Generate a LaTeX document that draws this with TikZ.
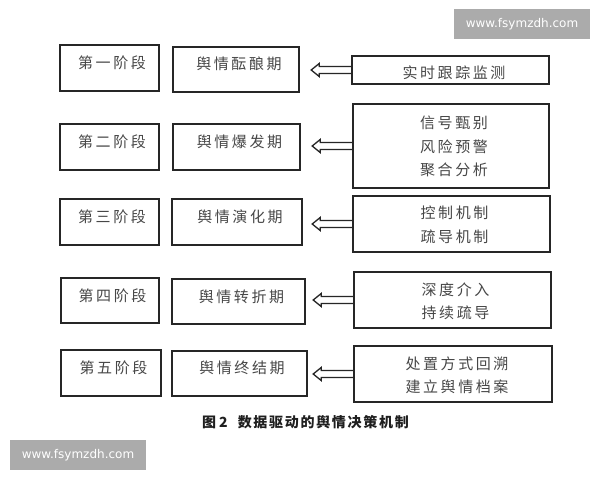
\documentclass[tikz,border=0pt]{standalone}
\usepackage{fontspec}
\newfontfamily\cjk{Noto Sans CJK SC}
\newfontfamily\wmfont{DejaVu Sans}
\usetikzlibrary{calc}
\newdimen\trk
\trk=2.6pt
\def\spaced#1{\spacedA#1\relax}
\def\spacedA#1#2{#1\ifx#2\relax\else\kern\trk\expandafter\spacedA\expandafter#2\fi}
\newcommand\mkbox[5]{\node[bx, minimum width={#4-#2}, minimum height={#5-#3}] (#1) at ({(#2+#4)/2},{(#3+#5)/2}) {};}
\newcommand\mkarrow[2]{%
  \coordinate (#2) at ($(#1.west)+(-40,0)$);
  \draw[arr] ($(#1.west)+(0,-3.5)$) -- ($(#2)+(8,-3.5)$) -- ($(#2)+(8,-6.5)$) -- (#2)
     -- ($(#2)+(8,6.5)$) -- ($(#2)+(8,3.5)$) -- ($(#1.west)+(0,3.5)$);}
\begin{document}
\begin{tikzpicture}[x=1pt,y=-1pt,
  bx/.style={draw=black!85, line width=1.6pt, inner sep=0pt},
  txt/.style={inner sep=0pt, text=black!72, font=\cjk\fontsize{15pt}{23.5pt}\selectfont, align=center},
  arr/.style={draw=black!85, line width=1.3pt, line join=miter},
  wm/.style={fill=black!33, draw=none, inner sep=0pt, minimum width=136pt, minimum height=30pt,
    text=white, font=\wmfont\fontsize{12pt}{14pt}\selectfont}
]
\useasboundingbox[fill=white] (0,0) rectangle (600,480);

% stage boxes
\mkbox{s1}{60}{45}{159}{91}
\mkbox{s2}{60}{124}{159}{170}
\mkbox{s3}{60}{199}{159}{245}
\mkbox{s4}{61}{278}{159}{323}
\mkbox{s5}{61}{350}{161}{396}
% period boxes
\mkbox{p1}{173}{47}{299}{92}
\mkbox{p2}{173}{124}{300}{170}
\mkbox{p3}{172}{199}{302}{245}
\mkbox{p4}{172}{279}{305}{324}
\mkbox{p5}{172}{351}{307}{396}
% right boxes
\mkbox{r1}{352}{56}{549}{84}
\mkbox{r2}{353}{104}{549}{188}
\mkbox{r3}{353}{196}{550}{252}
\mkbox{r4}{354}{272}{551}{328}
\mkbox{r5}{354}{346}{552}{402}

% texts
\node[txt] (s1t) at ($(s1.center)+(2.5,-5.5)$) {\spaced{第一阶段}};
\node[txt] (s2t) at ($(s2.center)+(2.5,-5)$) {\spaced{第二阶段}};
\node[txt] (s3t) at ($(s3.center)+(2.5,-5)$) {\spaced{第三阶段}};
\node[txt] (s4t) at ($(s4.center)+(2.5,-4.5)$) {\spaced{第四阶段}};
\node[txt] (s5t) at ($(s5.center)+(2.5,-5)$) {\spaced{第五阶段}};

\node[txt] (p1t) at ($(p1.center)+(3,-5.5)$) {\spaced{舆情酝酿期}};
\node[txt] (p2t) at ($(p2.center)+(3,-5)$) {\spaced{舆情爆发期}};
\node[txt] (p3t) at ($(p3.center)+(3,-5)$) {\spaced{舆情演化期}};
\node[txt] (p4t) at ($(p4.center)+(3,-5)$) {\spaced{舆情转折期}};
\node[txt] (p5t) at ($(p5.center)+(2.5,-5.5)$) {\spaced{舆情终结期}};

\node[txt] (r1t) at ($(r1.center)+(3.5,3)$) {\spaced{实时跟踪监测}};
\node[txt] (r2t) at ($(r2.center)+(3,0.5)$) {\spaced{信号甄别}\\\spaced{风险预警}\\\spaced{聚合分析}};
\node[txt] (r3t) at ($(r3.center)+(3,1)$) {\spaced{控制机制}\\\spaced{疏导机制}};
\node[txt] (r4t) at ($(r4.center)+(3,1.5)$) {\spaced{深度介入}\\\spaced{持续疏导}};
\node[txt] (r5t) at ($(r5.center)+(4,1)$) {\spaced{处置方式回溯}\\\spaced{建立舆情档案}};

% hollow arrows
\mkarrow{r1}{t1}
\mkarrow{r2}{t2}
\mkarrow{r3}{t3}
\mkarrow{r4}{t4}
\mkarrow{r5}{t5}

% caption
\node[inner sep=0pt, text=black!88, font=\cjk\bfseries\fontsize{14pt}{16pt}\selectfont] (cap) at (305.5,422)
  {\trk=1.7pt 图\kern3pt 2\kern10pt\spaced{数据驱动的舆情决策机制}};

% watermarks
\node[wm] (wm1) at (522,24) {www.fsymzdh.com};
\node[wm] (wm2) at (78,455) {www.fsymzdh.com};
\end{tikzpicture}
\end{document}
